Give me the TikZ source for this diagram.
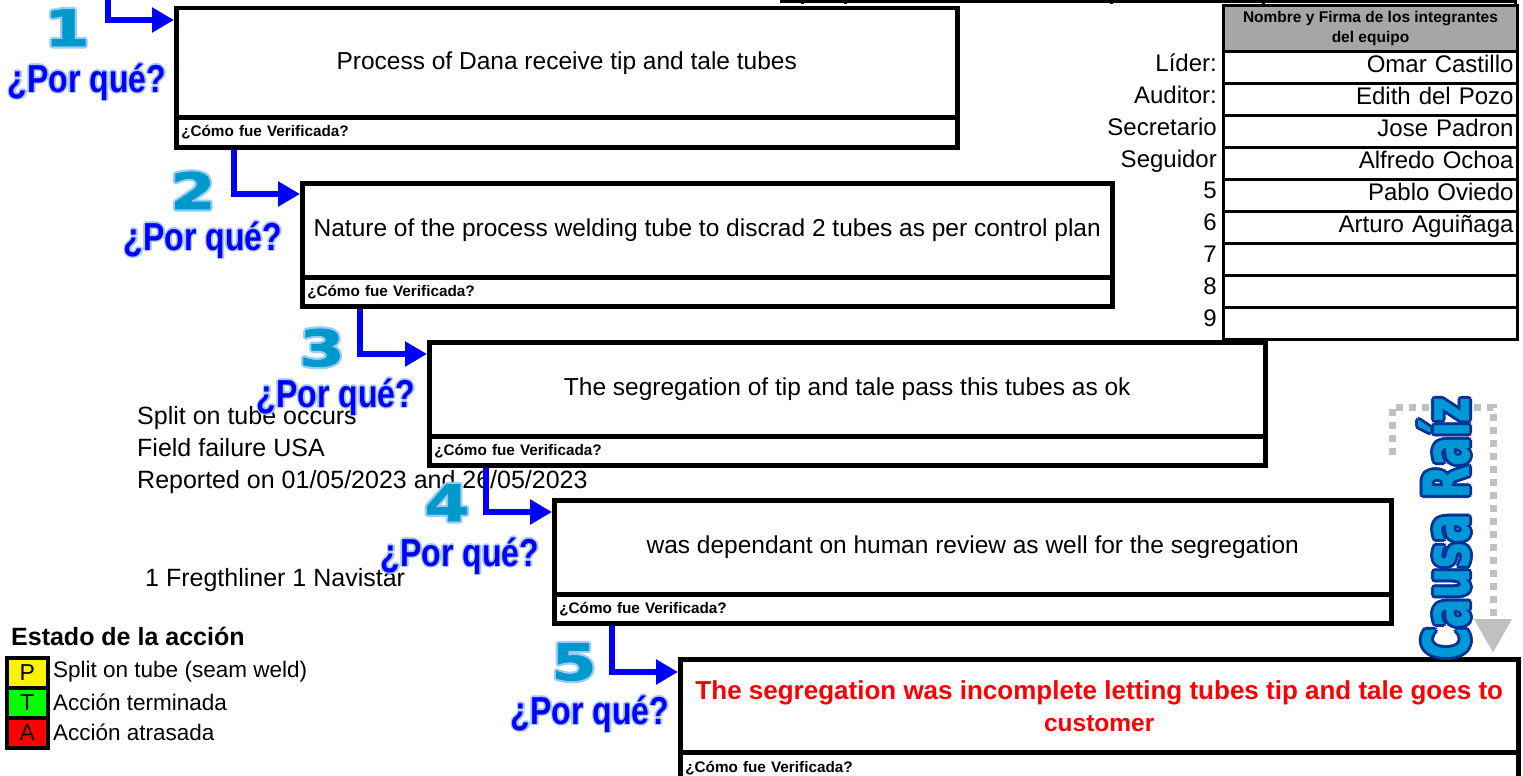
\documentclass[tikz,border=0pt]{standalone}
\usepackage{fontspec}
\setmainfont{Liberation Sans}
\newfontfamily\whyfont{Liberation Sans}[FakeStretch=0.82]
\newfontfamily\numfont{DejaVu Sans}[FakeStretch=1.3,FakeBold=1.5]
\newfontfamily\rootfont{DejaVu Sans}[FakeStretch=0.68,FakeBold=1]
\usetikzlibrary{arrows.meta,calc}

\definecolor{whyblue}{HTML}{0000FF}
\definecolor{whyglow}{HTML}{A8C8FF}
\definecolor{numcyan}{HTML}{0099CC}
\definecolor{numglow}{HTML}{99CCFF}
\definecolor{rootfill}{HTML}{0099D6}
\definecolor{rootedge}{HTML}{003399}
\definecolor{dotgray}{HTML}{C0C0C0}
\definecolor{hdrgray}{HTML}{A6A6A6}
\definecolor{redtext}{HTML}{FF0000}

% text with a coloured halo: name, position, style, halo colour, halo radius, text
\newcommand\glowlabel[6]{%
  \foreach \ang in {0,45,...,315}
    {\node[#3,text=#4] at ($(#2)+(\ang:#5)$) {#6};}
  \node[#3] (#1) at (#2) {#6};
}

% one "why" box: name, left, top, right, divider, bottom, statement
\newcommand\whybox[7]{%
  \pgfmathsetmacro\bw{#4-#2}\pgfmathsetmacro\bh{#5-#3}%
  \pgfmathsetmacro\vh{#6-#5}\pgfmathsetmacro\vw{#4-#2-10}%
  \node[maincell, minimum width=\bw pt, minimum height=\bh pt] (#1) at (#2,#3) {#7};
  \node[checkcell, text width=\vw pt, minimum height=\vh pt] (#1v) at (#2,#5) {¿Cómo fue Verificada?};
}

\begin{document}
\begin{tikzpicture}[x=1pt,y=-1pt,
  cell/.style={draw, line width=4.5pt, anchor=north west, inner sep=0pt},
  maincell/.style={cell, align=center, font=\fontsize{24.5}{32}\selectfont},
  checkcell/.style={cell, inner xsep=5pt, align=left, font=\bfseries\fontsize{15.3}{17}\selectfont},
  whyarrow/.style={draw=whyblue, line width=6pt, -{Triangle[length=22pt,width=24pt]}},
  whytext/.style={inner sep=0pt, text=whyblue, font=\whyfont\bfseries\fontsize{39}{39}\selectfont},
  numtext/.style={inner sep=0pt, anchor=base, text=numcyan, font=\numfont\bfseries\fontsize{50}{50}\selectfont},
  roottext/.style={inner sep=0pt, rotate=90, text=rootfill, font=\rootfont\bfseries\fontsize{63}{63}\selectfont},
  plain/.style={inner sep=0pt, font=\fontsize{25}{25}\selectfont},
  hdrcell/.style={draw, line width=3pt, fill=hdrgray, anchor=north west, minimum width=294pt, minimum height=46pt,
    inner sep=0pt, align=center, font=\bfseries\fontsize{15.5}{20}\selectfont},
  rowcell/.style={draw, line width=3pt, anchor=north west, minimum width=294pt, minimum height=32pt,
    inner xsep=4pt, inner ysep=0pt, text width=286pt, align=right, font=\fontsize{24}{24}\selectfont},
  rowlabel/.style={anchor=east, inner sep=0pt, font=\fontsize{24}{24}\selectfont},
  legbox/.style={draw, line width=3.5pt, anchor=north west, minimum width=41pt, minimum height=30pt,
    inner sep=0pt, font=\fontsize{23}{23}\selectfont},
  legtext/.style={anchor=west, inner sep=0pt, font=\fontsize{22.5}{22.5}\selectfont},
  rootdots/.style={draw=dotgray, line width=7pt, dash pattern=on 7pt off 6pt,
    -{Triangle[length=34pt,width=36pt]}}
]
\useasboundingbox (0,0) rectangle (1523,776);
\clip (0,0) rectangle (1523,776);

% frame line of the form header
\draw[line width=3pt] (780,1.5) -- (1516,1.5);
\foreach \x in {802,845,1111,1263,1515} \draw[line width=3pt] (\x,0) -- (\x,4);

% background notes
\node[plain, anchor=base west] (n1) at (137,424) {Split on tube occurs};
\node[plain, anchor=base west] (n2) at (137,456) {Field failure USA};
\node[plain, anchor=base west] (n3) at (137,488) {Reported on 01/05/2023 and 26/05/2023};
\node[plain, anchor=base west] (n4) at (145,586) {1 Fregthliner 1 Navistar};

% the five why boxes
\whybox{b1}{174}{6}{955}{115}{145}{Process of Dana receive tip and tale tubes}
\whybox{b2}{300}{181}{1110}{275}{304}{Nature of the process welding tube to discrad 2 tubes as per control plan}
\whybox{b3}{427}{340}{1263}{434}{463}{The segregation of tip and tale pass this tubes as ok}
\whybox{b4}{552}{498}{1389}{592}{621}{was dependant on human review as well for the segregation}
\whybox{b5}{678}{657}{1516}{750}{781}{\fontsize{26}{32}\selectfont\textcolor{redtext}{\bfseries The segregation was incomplete letting tubes tip and tale goes to}\\\textcolor{redtext}{\bfseries customer}}

% step numbers
\glowlabel{k1}{67,46}{numtext}{numglow}{2.2}{1}
\glowlabel{k2}{193,209}{numtext}{numglow}{2.2}{2}
\glowlabel{k3}{322,366}{numtext}{numglow}{2.2}{3}
\glowlabel{k4}{447,521}{numtext}{numglow}{2.2}{4}
\glowlabel{k5}{574,680}{numtext}{numglow}{2.2}{5}

% "why" labels
\glowlabel{w1}{87,82}{whytext}{whyglow}{1.6}{¿Por qué?}
\glowlabel{w2}{203,240}{whytext}{whyglow}{1.6}{¿Por qué?}
\glowlabel{w3}{336,397}{whytext}{whyglow}{1.6}{¿Por qué?}
\glowlabel{w4}{460,556}{whytext}{whyglow}{1.6}{¿Por qué?}
\glowlabel{w5}{590,714}{whytext}{whyglow}{1.6}{¿Por qué?}

% connectors between the boxes
\coordinate (start) at (108,-5);
\draw[whyarrow] (start) |- ($(b1.north west)+(0,14)$);
\draw[whyarrow] ($(b1v.south west)+(60,0)$) |- ($(b2.north west)+(0,13)$);
\draw[whyarrow] ($(b2v.south west)+(60,0)$) |- ($(b3.north west)+(0,14)$);
\draw[whyarrow] ($(b3v.south west)+(59,0)$) |- ($(b4.north west)+(0,14)$);
\draw[whyarrow] ($(b4v.south west)+(60,0)$) |- ($(b5.north west)+(0,15)$);

% team table
\node[hdrcell] (th) at (1222,4) {Nombre y Firma de los integrantes\\del equipo};
\foreach \i/\lab/\nm in {1/Líder:/Omar Castillo, 2/Auditor:/Edith del Pozo, 3/Secretario/Jose Padron,
    4/Seguidor/Alfredo Ochoa, 5/5/Pablo Oviedo, 6/6/Arturo Aguiñaga, 7/7/, 8/8/, 9/9/}{
  \pgfmathsetmacro\yy{50+(\i-1)*32}
  \pgfmathsetmacro\ym{\yy+16}
  \node[rowcell] (r\i) at (1222,\yy) {\strut\nm};
  \node[rowlabel] (l\i) at (1217,\ym) {\strut\lab};
}

% legend
\node[anchor=west, inner sep=0pt, font=\bfseries\fontsize{25}{25}\selectfont] (lt) at (11,636) {Estado de la acción};
\node[legbox, fill=yellow] (lp) at (5,656) {P};
\node[legbox, fill=green] (lg) at (5,686) {T};
\node[legbox, fill=red] (lr) at (5,716) {A};
\node[legtext] at (53,672) {Split on tube (seam weld)};
\node[legtext] at (53,702) {Acción terminada};
\node[legtext] at (53,732) {Acción atrasada};

% root cause marker
\draw[rootdots] (1392,455) -- (1392,407) -- (1493,407) -- (1493,653);
\glowlabel{root}{1444,528}{roottext}{rootedge}{3}{Causa Raíz}
\end{tikzpicture}
\end{document}
